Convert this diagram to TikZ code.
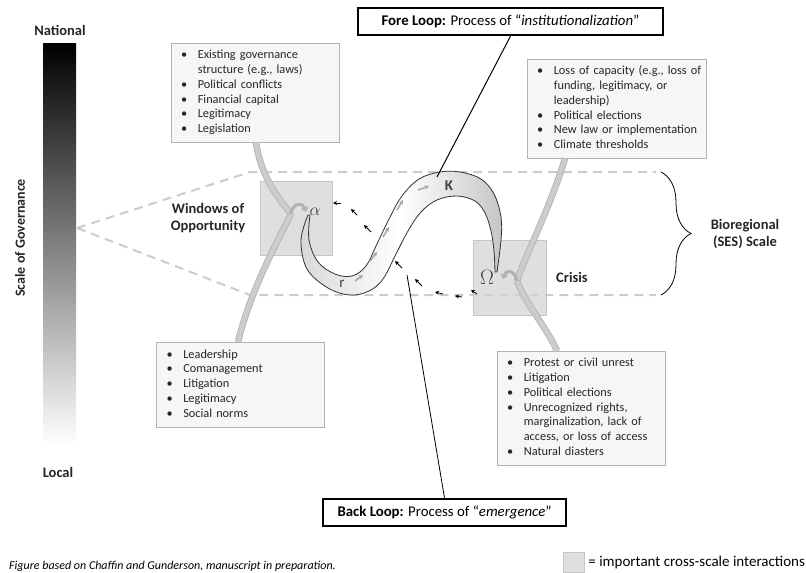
\documentclass[tikz,border=0pt]{standalone}
\usepackage{fontspec}
\setmainfont{Carlito}
\usetikzlibrary{arrows.meta,decorations.pathreplacing,positioning}

\newcommand{\blt}{\textbullet}

\begin{document}
\begin{tikzpicture}[x=1pt,y=-1pt,
    infobox/.style={draw=gray!60, fill=gray!7, anchor=north west, inner xsep=10pt, inner ysep=0pt,
      align=left, text=black!85, font=\fontsize{12.3}{14.8}\selectfont},
    loopbox/.style={draw=black, line width=2.2pt, inner sep=0pt, minimum height=27pt,
      font=\fontsize{14.8}{16}\selectfont},
    crossbox/.style={draw=gray!45, fill=gray!35, fill opacity=0.7, inner sep=0pt},
    band/.style={draw=gray!65, double=gray!40, double distance=5pt, line width=0.7pt},
    curlarrow/.style={gray!60, line width=3pt, -{Triangle[length=4.5pt,width=8pt]}},
    flowarrow/.style={gray!70, line width=1.5pt, -{Stealth[length=4.5pt,width=4.5pt]}},
    backarrow/.style={black, line width=0.8pt, -{Stealth[length=4pt,width=4pt]}},
    scaleline/.style={gray!40, line width=2pt, dash pattern=on 9pt off 6pt},
    bigtitle/.style={font=\bfseries\fontsize{14.5}{17}\selectfont, text=black!85},
    greek/.style={text=black!75, inner sep=0pt}]
  \useasboundingbox (0,0) rectangle (806,573);
  % scale bar
  \shade[top color=black, bottom color=white] (43,43) rectangle (76,445);
  \node[bigtitle] (national) at (60,30) {National};
  \node[bigtitle] (local) at (58,472) {Local};
  \node[bigtitle, rotate=90, font=\bfseries\fontsize{14}{15}\selectfont] (scale) at (20,238) {Scale of Governance};
  % bioregional band
  \coordinate (apex) at (77,228);
  \draw[scaleline] (apex) -- (250,172) -- (656,172);
  \draw[scaleline] (apex) -- (250,295) -- (656,295);
  \draw[decorate, decoration={brace, amplitude=30pt}, line width=0.8pt] (661,172) -- (661,295);
  \node[bigtitle, align=center] (ses) at (745,234) {Bioregional\\(SES) Scale};
  % cross-scale squares
  \node[crossbox, minimum width=72pt, minimum height=74pt] (wbox) at (296,218) {};
  \node[crossbox, minimum width=73pt, minimum height=75pt] (cbox) at (509.5,277.5) {};
  \node[bigtitle, align=center] (windows) at (208,218) {Windows of\\Opportunity};
  \node[bigtitle] (crisis) at (572,277) {Crisis};
  % info boxes
  \node[infobox, text width=148pt, minimum height=99pt] (tl) at (171,43) {%
    \begin{tabular}{@{}l@{\hspace{10.5pt}}l@{}}
      \blt & Existing governance\\
           & structure (e.g., laws)\\
      \blt & Political conflicts\\
      \blt & Financial capital\\
      \blt & Legitimacy\\
      \blt & Legislation
    \end{tabular}};
  \node[infobox, text width=159pt, minimum height=99pt] (tr) at (527,59) {%
    \begin{tabular}{@{}l@{\hspace{10.5pt}}l@{}}
      \blt & Loss of capacity (e.g., loss of\\
           & funding, legitimacy, or\\
           & leadership)\\
      \blt & Political elections\\
      \blt & New law or implementation\\
      \blt & Climate thresholds
    \end{tabular}};
  \node[infobox, text width=147pt, inner xsep=10.5pt, minimum height=85pt] (bl) at (156,342) {%
    \begin{tabular}{@{}l@{\hspace{10.5pt}}l@{}}
      \blt & Leadership\\
      \blt & Comanagement\\
      \blt & Litigation\\
      \blt & Legitimacy\\
      \blt & Social norms
    \end{tabular}};
  \node[infobox, text width=148pt, minimum height=114pt] (br) at (497,351) {%
    \begin{tabular}{@{}l@{\hspace{10.5pt}}l@{}}
      \blt & Protest or civil unrest\\
      \blt & Litigation\\
      \blt & Political elections\\
      \blt & Unrecognized rights,\\
           & marginalization, lack of\\
           & access, or loss of access\\
      \blt & Natural diasters
    \end{tabular}};
  % cross-scale bands
  \coordinate (acurl) at (291,214);
  \coordinate (ocurl) at (517,281);
  \draw[band] ([xshift=85pt]tl.south west) .. controls +(5,35) and +(-12,-15) .. (acurl);
  \draw[band] ([xshift=82pt]bl.north west) .. controls +(12,-50) and +(-15,30) .. (acurl);
  \draw[curlarrow] (acurl) .. controls (292,203) and (303,202) .. (306,212);
  \draw[band] ([xshift=38pt]tr.south west) .. controls +(-15,50) and +(8,-25) .. (ocurl);
  \draw[band] (ocurl) .. controls +(8,22) and +(-8,-20) .. ([xshift=60pt]br.north west);
  \draw[curlarrow] (ocurl) .. controls (515,270) and (506,269) .. (503,279);
  % adaptive cycle ribbon
  \shadedraw[left color=gray!30, right color=gray!45, middle color=white, draw=black!80, line width=0.8pt]
    plot[smooth, tension=0.6] coordinates {(308,215) (301,240) (307,269) (328,288) (350,295) (369,291)
      (383,279) (396,254) (408,231) (421,212) (437,200) (457,196) (475,201) (485,213) (491,231)
      (494,251) (495,272)}
    -- plot[smooth, tension=0.6] coordinates {(497,272) (501,240) (501,217) (494,194) (481,179)
      (460,172) (440,172) (419,179) (402,196) (389,219) (376,246) (366,266) (352,276) (335,274)
      (318,262) (309,240) (310,215)}
    -- cycle;
  \node[greek, font=\fontsize{17}{17}\selectfont] (alpha) at (315,212) {$\alpha$};
  \node[greek, font=\fontsize{20}{20}\selectfont] (omega) at (487,277) {$\Omega$};
  \node[greek, font=\fontsize{15}{15}\selectfont] (kappa) at (449,186) {$\mathbf{K}$};
  \node[greek, font=\fontsize{15}{15}\selectfont] (rr) at (342,284) {$\mathrm{r}$};
  % fore loop arrows
  \foreach \x/\y/\u/\v in {355/281/363/275, 370/261/377/252, 383/237/389/227, 397/210/403/200, 418/190/429/186}
    \draw[flowarrow] (\x,\y) -- (\u,\v);
  % back loop arrows
  \foreach \x/\y/\u/\v in {341/203/333/203, 357/215/351/209, 371/232/364/225, 402/268/395/261,
      422/286/415/279, 443/294/435/292, 462/297/455/296, 477/294/471/290}
    \draw[backarrow] (\x,\y) -- (\u,\v);
  % loop labels
  \node[loopbox, minimum width=305pt] (fore) at (510.5,21.5) {\textbf{Fore Loop:} Process of “\textit{institutionalization}”};
  \node[loopbox, minimum width=243pt] (back) at (444.5,512.5) {\textbf{Back Loop:} Process of “\textit{emergence}”};
  \coordinate (kpt) at (437,177);
  \coordinate (bpt) at (407,275);
  \draw[line width=1pt] (fore.south) -- (kpt);
  \draw[line width=0.8pt] (back.north) -- (bpt);
  % legend and caption
  \node[crossbox, minimum width=21pt, minimum height=20pt] (key) at (573.5,562) {};
  \node[right=4pt of key, font=\fontsize{15}{16}\selectfont, inner sep=0pt] (keytxt) {= important cross-scale interactions};
  \node[anchor=west, inner sep=0pt, font=\itshape\fontsize{12}{13}\selectfont] (cap) at (9,566)
    {Figure based on Chaffin and Gunderson, manuscript in preparation.};
\end{tikzpicture}
\end{document}
